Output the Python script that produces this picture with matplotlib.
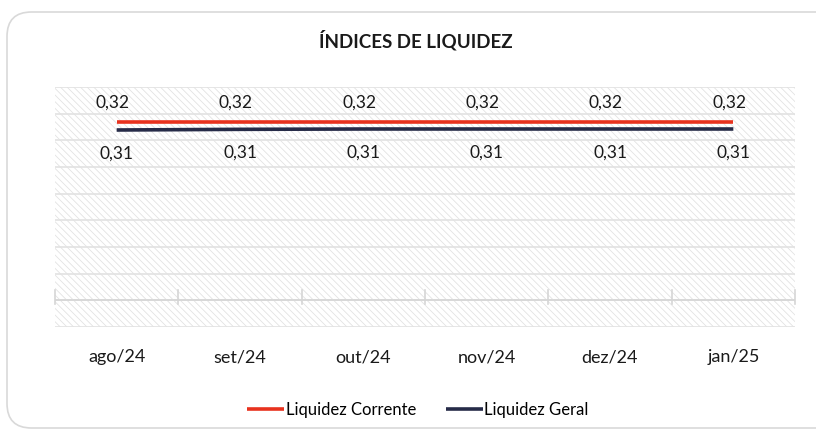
import matplotlib.pyplot as plt
from matplotlib.patches import FancyBboxPatch, Rectangle

months = ['ago/24', 'set/24', 'out/24', 'nov/24', 'dez/24', 'jan/25']
liq_corrente = [0.324, 0.324, 0.324, 0.324, 0.324, 0.324]
liq_geral = [0.312, 0.313, 0.3135, 0.3135, 0.3135, 0.3135]

red = '#E8321E'
navy = '#262B48'
plt.rcParams['font.family'] = ['Lato', 'DejaVu Sans']
plt.rcParams['hatch.linewidth'] = 0.6

fig = plt.figure(figsize=(8.16, 4.30), dpi=100)
W, H = 816, 430

# rounded outer frame (runs off the right edge like the source)
frame = FancyBboxPatch((7 / W, 2 / H), 840 / W, 416 / H,
                       boxstyle='round,pad=0,rounding_size=0.03',
                       transform=fig.transFigure, facecolor='white',
                       edgecolor='#D9D9D9', linewidth=1.2, mutation_aspect=W / H,
                       zorder=-5)
fig.patches.append(frame)

ax = fig.add_axes([55 / W, (H - 327) / H, 740 / W, 240 / H])
ax.set_zorder(2)
ax.set_facecolor('none')
for s in ax.spines.values():
    s.set_visible(False)

step = 0.04
lo = 0.0165
ax.set_ylim(lo, lo + 9 * step)
ax.set_xlim(-0.5, len(months) - 0.5)

# hatched plot area
ax.add_patch(Rectangle((-0.5, lo), len(months), 9 * step, facecolor='white',
                       edgecolor='#E3E3E3', hatch='\\\\\\\\\\', linewidth=0, zorder=0))

for k in range(10):
    ax.axhline(lo + k * step, color='#E2E2E2', linewidth=1.2, zorder=1)

# category axis with tick marks
axis_y = lo + step
ax.axhline(axis_y, color='#D6D6D6', linewidth=1.2, zorder=1)
for b in range(len(months) + 1):
    ax.plot([b - 0.5, b - 0.5], [axis_y - 0.005, axis_y + 0.016], color='#D6D6D6',
            linewidth=1.2, zorder=1, clip_on=False)

x = range(len(months))
ax.plot(x, liq_corrente, color=red, linewidth=2.6, solid_capstyle='butt', zorder=3,
        label='Liquidez Corrente')
ax.plot(x, liq_geral, color=navy, linewidth=2.6, solid_capstyle='butt', zorder=3,
        label='Liquidez Geral')

for i in x:
    ax.annotate(f'{liq_corrente[i]:.2f}'.replace('.', ','), (i, liq_corrente[i]),
                xytext=(-3, 14), textcoords='offset points', ha='center', va='center',
                fontsize=12.5, color='#1A1A1A')
    ax.annotate(f'{liq_geral[i]:.2f}'.replace('.', ','), (i, liq_geral[i]),
                xytext=(0, -17), textcoords='offset points', ha='center', va='center',
                fontsize=12.5, color='#1A1A1A')

ax.set_yticks([])
ax.set_xticks(list(x))
ax.set_xticklabels(months, fontsize=13, color='#1A1A1A')
ax.tick_params(axis='x', length=0, pad=16)

fig.text(416 / W, 1 - 40 / H, 'ÍNDICES DE LIQUIDEZ', ha='center', va='center',
         fontsize=13.5, fontweight='bold', color='#1A1A1A')

fig.legend(loc='center', bbox_to_anchor=(418 / W, 1 - 410 / H), ncol=2, frameon=False,
           fontsize=12, handlelength=2.2, handletextpad=0.1, columnspacing=1.8)

fig.savefig('out.png', dpi=100)
